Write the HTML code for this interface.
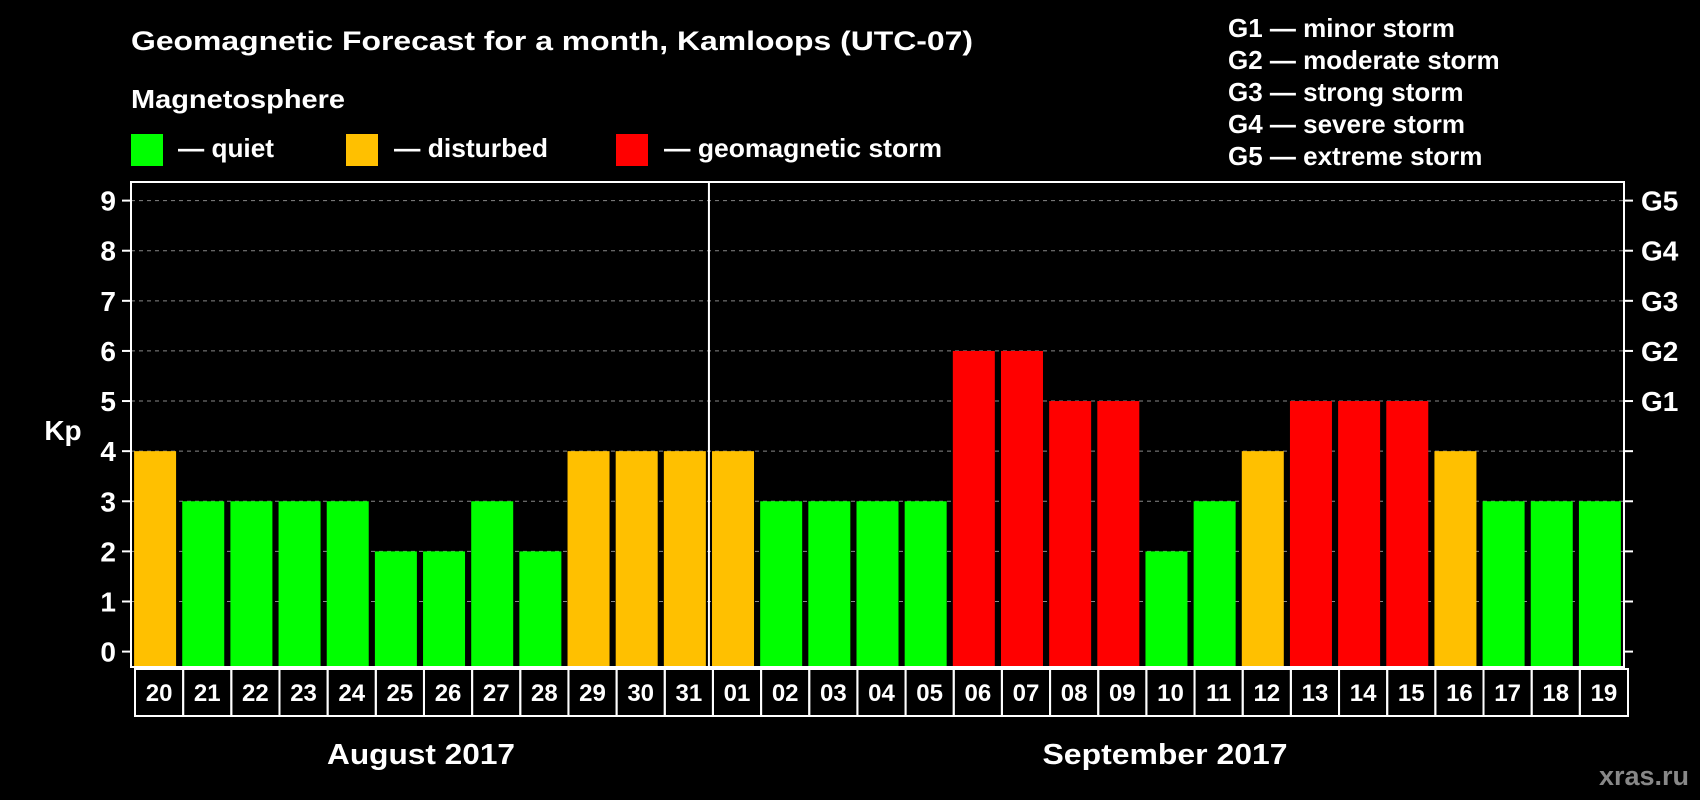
<!DOCTYPE html>
<html><head><meta charset="utf-8"><style>
html,body{margin:0;padding:0;background:#000;width:1700px;height:800px;overflow:hidden}
svg{display:block;font-family:"Liberation Sans",Arial,sans-serif;font-weight:bold}
</style></head><body>
<svg id="c" width="1700" height="800" viewBox="0 0 1700 800">
<text x="131" y="50" fill="#fff" font-size="27" textLength="842" lengthAdjust="spacingAndGlyphs">Geomagnetic Forecast for a month, Kamloops (UTC-07)</text>
<text x="131" y="108" fill="#fff" font-size="26" textLength="214" lengthAdjust="spacingAndGlyphs">Magnetosphere</text>
<g><rect x="131" y="134" width="32" height="32" fill="#00ff00"/><text x="178" y="157" fill="#fff" font-size="26" textLength="96" lengthAdjust="spacingAndGlyphs">— quiet</text></g>
<g><rect x="346" y="134" width="32" height="32" fill="#ffc000"/><text x="394" y="157" fill="#fff" font-size="26" textLength="154" lengthAdjust="spacingAndGlyphs">— disturbed</text></g>
<g><rect x="616" y="134" width="32" height="32" fill="#ff0000"/><text x="664" y="157" fill="#fff" font-size="26" textLength="278" lengthAdjust="spacingAndGlyphs">— geomagnetic storm</text></g>
<g fill="#fff" font-size="26">
<text x="1228" y="37">G1 — minor storm</text>
<text x="1228" y="69">G2 — moderate storm</text>
<text x="1228" y="101">G3 — strong storm</text>
<text x="1228" y="133">G4 — severe storm</text>
<text x="1228" y="165">G5 — extreme storm</text>
</g>
<text x="63" y="440" fill="#fff" font-size="28" text-anchor="middle">Kp</text>
<text x="421" y="764" fill="#fff" font-size="29" text-anchor="middle" textLength="188" lengthAdjust="spacingAndGlyphs">August 2017</text>
<text x="1165" y="764" fill="#fff" font-size="29" text-anchor="middle" textLength="245" lengthAdjust="spacingAndGlyphs">September 2017</text>
<text x="1644" y="785" fill="#888" font-size="27" text-anchor="middle">xras.ru</text>
<g id="plot"></g>
</svg>
<script>
const days = ["20","21","22","23","24","25","26","27","28","29","30","31","01","02","03","04","05","06","07","08","09","10","11","12","13","14","15","16","17","18","19"];
const kpValues = [4,3,3,3,3,2,2,3,2,4,4,4,4,3,3,3,3,6,6,5,5,2,3,4,5,5,5,4,3,3,3];
const yTicks = [0,1,2,3,4,5,6,7,8,9];
const gLabels = ["","","","","","G1","G2","G3","G4","G5"];
const monthSplit = 12;

const NS="http://www.w3.org/2000/svg";
const g=document.getElementById('plot');
const L=131,R=1624,T=182,B=667;
const slot=(R-L)/days.length;
function y(v){return 651.6-v*(651.6-200.6)/9;}
function x(i){return L+i*slot;}
function mk(t,a){const e=document.createElementNS(NS,t);for(const k in a)e.setAttribute(k,a[k]);g.appendChild(e);return e;}

yTicks.forEach((t,i)=>{
  if(t>0){const gl=mk('line',{x1:L,x2:R,y1:y(t),y2:y(t),stroke:'#888','stroke-dasharray':'4,4','stroke-width':1});
  
  }
  mk('line',{x1:L-9,x2:L,y1:y(t),y2:y(t),stroke:'#fff','stroke-width':2});
  mk('line',{x1:R,x2:R+9,y1:y(t),y2:y(t),stroke:'#fff','stroke-width':2});
  const tl=mk('text',{x:116,y:y(t)+10,fill:'#fff','font-size':28,'text-anchor':'end'});
  tl.textContent=t;
  
  
  if(gLabels[i]){const gt=mk('text',{x:1641,y:y(t)+10,fill:'#fff','font-size':28});
  gt.textContent=gLabels[i];
  
  }
});

kpValues.forEach((v,i)=>{
  const c=v>=5?'#ff0000':(v>=4?'#ffc000':'#00ff00');
  const bw=42;
  const b=mk('rect',{x:x(i)+(slot-bw)/2,y:y(v),width:bw,height:B-1-y(v),fill:c});
  
  
  const cell=mk('rect',{x:x(i)+4,y:669,width:slot,height:47,fill:'none',stroke:'#fff','stroke-width':2});
  
  
  const lt=mk('text',{x:x(i)+4+slot/2,y:701,fill:'#fff','font-size':24,'text-anchor':'middle'});
  lt.textContent=days[i];
  
  
});

const dv=mk('line',{x1:x(monthSplit),x2:x(monthSplit),y1:T,y2:B,stroke:'#fff','stroke-width':2});


const fr=mk('rect',{x:L,y:T,width:R-L,height:B-T,fill:'none',stroke:'#fff','stroke-width':2});


</script>
</body></html>
